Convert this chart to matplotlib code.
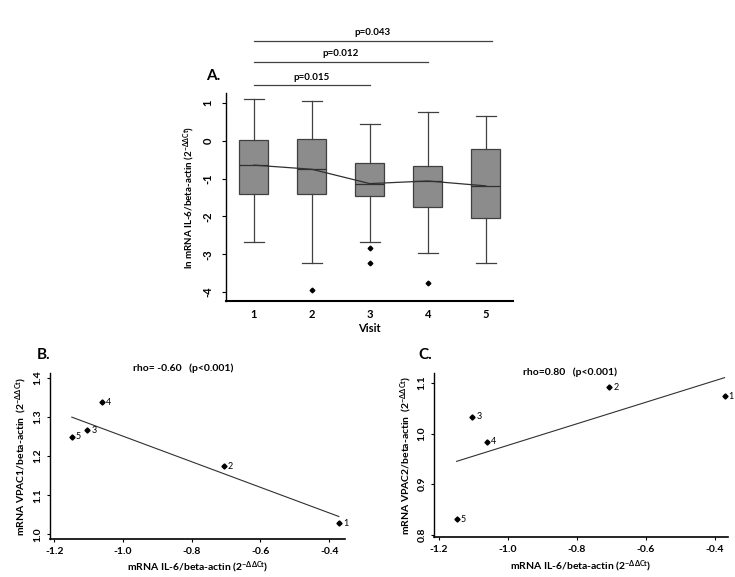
import matplotlib
matplotlib.use("Agg")
import matplotlib.pyplot as plt
import numpy as np

plt.rcParams['font.family'] = ['Lato', 'DejaVu Sans']
plt.rcParams['mathtext.fontset'] = 'custom'
plt.rcParams['mathtext.rm'] = 'Lato:bold'
plt.rcParams['mathtext.it'] = 'Lato:bold'
plt.rcParams['mathtext.bf'] = 'Lato:bold'

# ---- Panel A data (box plot statistics per visit) ----
visits = [1, 2, 3, 4, 5]
whislo = [-2.68, -3.24, -2.68, -2.97, -3.24]
q1 = [-1.41, -1.41, -1.47, -1.75, -2.03]
med = [-0.64, -0.75, -1.13, -1.06, -1.19]
q3 = [0.02, 0.04, -0.59, -0.67, -0.20]
whishi = [1.12, 1.06, 0.46, 0.78, 0.65]
fliers = [[], [-3.94], [-2.83, -3.24], [-3.77], []]
sig_pairs = [(1, 3), (1, 4), (1, 5.1)]
sig_labels = ["p=0.015", "p=0.012", "p=0.043"]

# ---- Panels B/C data ----
il6 = [-0.372, -0.707, -1.104, -1.061, -1.149]
vpac1 = [1.028, 1.174, 1.266, 1.3375, 1.249]
vpac2 = [1.074, 1.092, 1.033, 0.984, 0.831]
point_labels = ["1", "2", "3", "4", "5"]

SUP = r'(2$^{-\Delta\Delta \mathrm{Ct}}$)'

fig = plt.figure(figsize=(7.35, 5.77), dpi=100)

# ---------------- Panel A ----------------
axA = fig.add_axes([0.3075, 0.4783, 0.3905, 0.3605])
stats = []
for i in range(len(visits)):
    stats.append(dict(med=med[i], q1=q1[i], q3=q3[i], whislo=whislo[i],
                      whishi=whishi[i], fliers=fliers[i]))
axA.bxp(stats, positions=visits, widths=0.5, patch_artist=True,
        boxprops=dict(facecolor='#8c8c8c', edgecolor='#404040', linewidth=0.9),
        medianprops=dict(color='#303030', linewidth=0.9),
        whiskerprops=dict(color='#404040', linewidth=0.9),
        capprops=dict(color='#404040', linewidth=0.9),
        capwidths=0.35,
        flierprops=dict(marker='D', markerfacecolor='black', markeredgecolor='black',
                        markersize=2.4))
axA.plot(visits, med, color='#303030', linewidth=0.9, zorder=5)
axA.set_xlim(0.52, 5.47)
axA.set_ylim(-4.24, 1.27)
axA.set_yticks([1, 0, -1, -2, -3, -4])
axA.set_yticklabels(['1', '0', '-1', '-2', '-3', '-4'], rotation=90, va='center',
                    fontsize=8, fontweight='bold')
axA.set_xticks(visits)
axA.set_xticklabels([str(v) for v in visits], fontsize=8, fontweight='bold')
axA.tick_params(axis='x', length=0, pad=6)
axA.tick_params(axis='y', length=3, width=0.8, pad=6)
for s in ['top', 'right']:
    axA.spines[s].set_visible(False)
axA.spines['left'].set_linewidth(1.0)
axA.spines['bottom'].set_linewidth(1.5)
axA.set_xlabel('Visit', fontsize=8, fontweight='bold', labelpad=2)
axA.set_ylabel('ln mRNA IL-6/beta-actin ' + SUP, fontsize=7,
               fontweight='bold', labelpad=4)
sig_y = [1.47, 2.10, 2.65]
for (a, b), lab, yy in zip(sig_pairs, sig_labels, sig_y):
    axA.plot([a, b], [yy, yy], color='#404040', linewidth=0.9, clip_on=False)
    axA.text((a + b) / 2, yy + 0.1, lab, ha='center', va='bottom', fontsize=7,
             fontweight='bold', clip_on=False)
fig.text(206 / 735, 1 - 76 / 577, 'A.', fontsize=11, fontweight='bold',
         ha='left', va='center')


def scatter_panel(ax, x, y, xlim, ylim, yticks, ylabel):
    ax.plot(x, y, linestyle='none', marker='D', markersize=2.6,
            markerfacecolor='black', markeredgecolor='black')
    for xi, yi, lab in zip(x, y, point_labels):
        ax.annotate(lab, (xi, yi), xytext=(3, 0), textcoords='offset points',
                    fontsize=6.5, va='center', ha='left')
    coef = np.polyfit(x, y, 1)
    xs = np.array([min(x), max(x)])
    ax.plot(xs, np.polyval(coef, xs), color='#303030', linewidth=0.8)
    ax.set_xlim(*xlim)
    ax.set_ylim(*ylim)
    ax.set_xticks([-1.2, -1.0, -0.8, -0.6, -0.4])
    ax.set_xticklabels(['-1.2', '-1.0', '-0.8', '-0.6', '-0.4'], fontsize=7.5,
                       fontweight='bold')
    ax.set_yticks(yticks)
    ax.set_yticklabels(['%.1f' % t for t in yticks], rotation=90, va='center',
                       fontsize=7.5, fontweight='bold')
    ax.tick_params(length=2.5, width=0.8, pad=3)
    for s in ['top', 'right']:
        ax.spines[s].set_visible(False)
    ax.spines['left'].set_linewidth(1.0)
    ax.spines['bottom'].set_linewidth(1.2)
    ax.set_xlabel('mRNA IL-6/beta-actin ' + SUP, fontsize=7.5,
                  fontweight='bold', labelpad=3)
    ax.set_ylabel(ylabel, fontsize=7.5, fontweight='bold', labelpad=3)


# ---------------- Panel B ----------------
axB = fig.add_axes([0.068, 0.0659, 0.4014, 0.2877])
scatter_panel(axB, il6, vpac1, (-1.2125, -0.354), (0.988, 1.412),
              [1.0, 1.1, 1.2, 1.3, 1.4], 'mRNA VPAC1/beta-actin  ' + SUP)
fig.text(183 / 735, 1 - 368 / 577, 'rho= -0.60   (p<0.001)', fontsize=7.5,
         fontweight='bold', ha='center', va='center')
fig.text(37 / 735, 1 - 355 / 577, 'B.', fontsize=11, fontweight='bold',
         ha='left', va='center')

# ---------------- Panel C ----------------
axC = fig.add_axes([0.5909, 0.0688, 0.3996, 0.2848])
scatter_panel(axC, il6, vpac2, (-1.2136, -0.362), (0.795, 1.12),
              [0.8, 0.9, 1.0, 1.1], 'mRNA VPAC2/beta-actin  ' + SUP)
fig.text(570 / 735, 1 - 372.7 / 577, 'rho=0.80   (p<0.001)', fontsize=7.5,
         fontweight='bold', ha='center', va='center')
fig.text(418 / 735, 1 - 355 / 577, 'C.', fontsize=11, fontweight='bold',
         ha='left', va='center')

fig.savefig('out.png', dpi=100, facecolor='white')
